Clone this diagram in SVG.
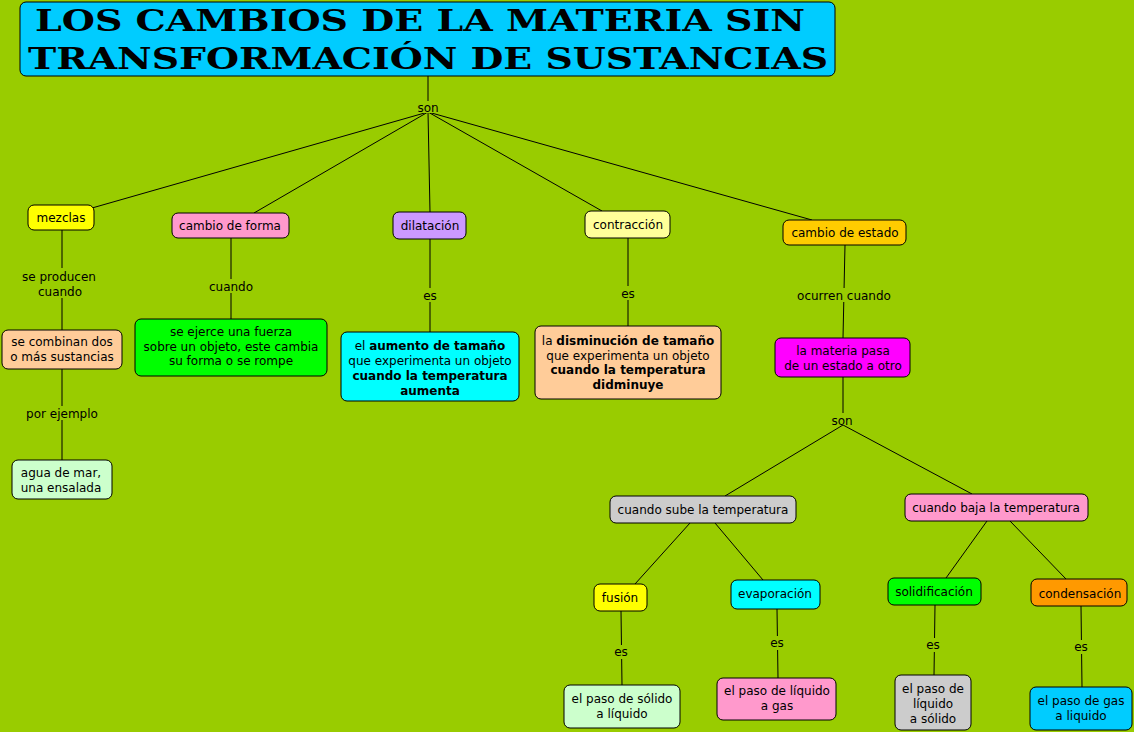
<svg xmlns="http://www.w3.org/2000/svg" width="1134" height="732" viewBox="0 0 1134 732">
<style>
.n{stroke:#000;stroke-width:1}
.t{font-family:"DejaVu Sans",Verdana,sans-serif;font-size:12px;fill:#000;text-anchor:middle}
.b{font-weight:bold}
.c line{stroke:#000;stroke-width:1}
.lb{fill:#99CC00}
.title{font-family:"DejaVu Serif","Liberation Serif",serif;font-weight:bold;font-size:30px;fill:#000}
</style>
<rect width="1134" height="732" fill="#99CC00"/>
<g class="c" id="connectors">
<line x1="428" y1="76" x2="428" y2="104"/>
<line x1="428" y1="112" x2="92" y2="208"/>
<line x1="428" y1="112" x2="254" y2="213"/>
<line x1="428" y1="112" x2="430" y2="212"/>
<line x1="428" y1="112" x2="602" y2="211"/>
<line x1="428" y1="112" x2="812" y2="220"/>
<line x1="62" y1="230" x2="62" y2="330"/>
<line x1="62" y1="369" x2="62" y2="460"/>
<line x1="231" y1="238" x2="231" y2="319"/>
<line x1="430" y1="239" x2="430" y2="332"/>
<line x1="628" y1="238" x2="628" y2="326"/>
<line x1="845" y1="245" x2="843" y2="338"/>
<line x1="843" y1="377" x2="843" y2="414"/>
<line x1="843" y1="425" x2="725" y2="496"/>
<line x1="843" y1="425" x2="972" y2="494"/>
<line x1="690" y1="523" x2="635" y2="584"/>
<line x1="715" y1="523" x2="763" y2="580"/>
<line x1="987" y1="521" x2="946" y2="578"/>
<line x1="1010" y1="521" x2="1066" y2="579"/>
<line x1="621" y1="611" x2="622" y2="685"/>
<line x1="777" y1="609" x2="778" y2="678"/>
<line x1="935" y1="605" x2="934" y2="675"/>
<line x1="1081" y1="606" x2="1082" y2="687"/>
<rect class="lb" x="414" y="101" width="28" height="12"/>
<text class="t" x="428" y="112">son</text>
<rect class="lb" x="20" y="268" width="80" height="30"/>
<text class="t" x="59" y="281">se producen<tspan x="60" dy="15">cuando</tspan></text>
<rect class="lb" x="24" y="406" width="76" height="14"/>
<text class="t" x="62" y="418">por ejemplo</text>
<rect class="lb" x="207" y="279" width="48" height="14"/>
<text class="t" x="231" y="291">cuando</text>
<rect class="lb" x="420" y="288" width="20" height="14"/>
<text class="t" x="430" y="300">es</text>
<rect class="lb" x="618" y="286" width="20" height="14"/>
<text class="t" x="628" y="298">es</text>
<rect class="lb" x="796" y="288" width="96" height="14"/>
<text class="t" x="844" y="300">ocurren cuando</text>
<rect class="lb" x="829" y="413" width="28" height="12"/>
<text class="t" x="842" y="425">son</text>
<rect class="lb" x="611" y="645" width="20" height="14"/>
<text class="t" x="621" y="656">es</text>
<rect class="lb" x="767" y="636" width="20" height="14"/>
<text class="t" x="777" y="647">es</text>
<rect class="lb" x="923" y="638" width="20" height="14"/>
<text class="t" x="933" y="649">es</text>
<rect class="lb" x="1071" y="640" width="20" height="14"/>
<text class="t" x="1081" y="651">es</text>
</g>
<g id="title">
<rect class="n" x="20" y="2" width="815" height="74" rx="6" fill="#00CCFF"/>
<text class="title" x="35" y="31" textLength="770" lengthAdjust="spacingAndGlyphs">LOS CAMBIOS DE LA MATERIA SIN</text>
<text class="title" x="28" y="69" textLength="800" lengthAdjust="spacingAndGlyphs">TRANSFORMACIÓN DE SUSTANCIAS</text>
</g>
<g id="mezclas"><rect class="n" x="28" y="205" width="66" height="25" rx="6" fill="#FFFF00"/><text class="t" x="61" y="222">mezclas</text></g>
<g id="cambio-forma"><rect class="n" x="172" y="213" width="117" height="25" rx="6" fill="#FF99CC"/><text class="t" x="230" y="230">cambio de forma</text></g>
<g id="dilatacion"><rect class="n" x="393" y="212" width="73" height="27" rx="6" fill="#CC99FF"/><text class="t" x="430" y="230">dilatación</text></g>
<g id="contraccion"><rect class="n" x="585" y="211" width="85" height="27" rx="6" fill="#FFFF99"/><text class="t" x="628" y="229">contracción</text></g>
<g id="cambio-estado"><rect class="n" x="783" y="220" width="123" height="25" rx="6" fill="#FFCC00"/><text class="t" x="845" y="237">cambio de estado</text></g>
<g id="se-combinan"><rect class="n" x="2" y="330" width="120" height="39" rx="6" fill="#FFCC99"/><text class="t" x="62" y="346">se combinan dos<tspan x="62" dy="15">o más sustancias</tspan></text></g>
<g id="agua"><rect class="n" x="12" y="460" width="100" height="39" rx="6" fill="#CCFFCC"/><text class="t" x="61" y="477">agua de mar,<tspan x="61" dy="15">una ensalada</tspan></text></g>
<g id="fuerza"><rect class="n" x="135" y="319" width="192" height="57" rx="6" fill="#00FF00"/><text class="t" x="231" y="336">se ejerce una fuerza<tspan x="231" dy="14.5">sobre un objeto, este cambia</tspan><tspan x="231" dy="14.5">su forma o se rompe</tspan></text></g>
<g id="aumento"><rect class="n" x="341" y="332" width="178" height="69" rx="6" fill="#00FFFF"/><text class="t" x="430" y="350">el <tspan class="b">aumento de tamaño</tspan><tspan x="430" dy="15">que experimenta un objeto</tspan><tspan x="430" dy="15" class="b">cuando la temperatura</tspan><tspan x="430" dy="15" class="b">aumenta</tspan></text></g>
<g id="disminucion"><rect class="n" x="535" y="326" width="186" height="73" rx="6" fill="#FFCC99"/><text class="t" x="628" y="345">la <tspan class="b">disminución de tamaño</tspan><tspan x="628" dy="14.5">que experimenta un objeto</tspan><tspan x="628" dy="14.5" class="b">cuando la temperatura</tspan><tspan x="628" dy="14.5" class="b">didminuye</tspan></text></g>
<g id="materia-pasa"><rect class="n" x="775" y="338" width="135" height="39" rx="6" fill="#FF00FF"/><text class="t" x="843" y="355">la materia pasa<tspan x="843" dy="15">de un estado a otro</tspan></text></g>
<g id="sube"><rect class="n" x="610" y="496" width="186" height="27" rx="6" fill="#CCCCCC"/><text class="t" x="703" y="514">cuando sube la temperatura</text></g>
<g id="baja"><rect class="n" x="905" y="494" width="183" height="27" rx="6" fill="#FF99CC"/><text class="t" x="996" y="512">cuando baja la temperatura</text></g>
<g id="fusion"><rect class="n" x="594" y="584" width="53" height="27" rx="6" fill="#FFFF00"/><text class="t" x="620" y="602">fusión</text></g>
<g id="evaporacion"><rect class="n" x="731" y="580" width="89" height="29" rx="6" fill="#00FFFF"/><text class="t" x="775" y="598">evaporación</text></g>
<g id="solidificacion"><rect class="n" x="888" y="578" width="93" height="27" rx="6" fill="#00FF00"/><text class="t" x="934" y="596">solidificación</text></g>
<g id="condensacion"><rect class="n" x="1031" y="579" width="96" height="27" rx="6" fill="#FF9900"/><text class="t" x="1080" y="598">condensación</text></g>
<g id="solido-liquido"><rect class="n" x="564" y="685" width="116" height="43" rx="6" fill="#CCFFCC"/><text class="t" x="622" y="703">el paso de sólido<tspan x="622" dy="15">a líquido</tspan></text></g>
<g id="liquido-gas"><rect class="n" x="717" y="678" width="119" height="42" rx="6" fill="#FF99CC"/><text class="t" x="777" y="695">el paso de líquido<tspan x="777" dy="15">a gas</tspan></text></g>
<g id="liquido-solido"><rect class="n" x="895" y="675" width="76" height="55" rx="6" fill="#CCCCCC"/><text class="t" x="933" y="693">el paso de<tspan x="933" dy="15">líquido</tspan><tspan x="933" dy="15">a sólido</tspan></text></g>
<g id="gas-liquido"><rect class="n" x="1030" y="687" width="102" height="43" rx="6" fill="#00CCFF"/><text class="t" x="1081" y="705">el paso de gas<tspan x="1081" dy="15">a liquido</tspan></text></g>
</svg>
